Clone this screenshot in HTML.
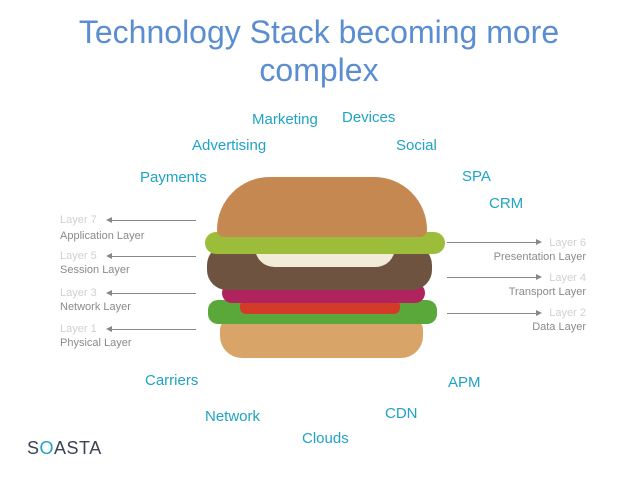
<!DOCTYPE html>
<html><head><meta charset="utf-8"><style>
body{margin:0;width:638px;height:479px;background:#fff;position:relative;overflow:hidden;font-family:"Liberation Sans",sans-serif}
.t{position:absolute;white-space:nowrap}
.title{left:0;width:638px;text-align:center;color:#5b8ed0;font-size:32px;line-height:38px;top:13px}
.k{color:#1fa3c6;font-size:15px}
.ly{color:#d0d0d0;font-size:11px}
.ln{color:#8a8a8a;font-size:11px}
.a{position:absolute;height:1px;background:#888}
.hl{position:absolute;width:0;height:0;border-top:3px solid transparent;border-bottom:3px solid transparent;border-right:6px solid #888}
.hr{position:absolute;width:0;height:0;border-top:3px solid transparent;border-bottom:3px solid transparent;border-left:6px solid #888}
.b{position:absolute}
</style></head><body>
<div class="t title">Technology Stack becoming more<br>complex</div>
<div class="t k" style="left:252px;top:111px">Marketing</div>
<div class="t k" style="left:342px;top:109px">Devices</div>
<div class="t k" style="left:192px;top:137px">Advertising</div>
<div class="t k" style="left:396px;top:137px">Social</div>
<div class="t k" style="left:140px;top:169px">Payments</div>
<div class="t k" style="left:462px;top:168px">SPA</div>
<div class="t k" style="left:489px;top:195px">CRM</div>
<div class="t k" style="left:145px;top:372px">Carriers</div>
<div class="t k" style="left:448px;top:374px">APM</div>
<div class="t k" style="left:205px;top:408px">Network</div>
<div class="t k" style="left:385px;top:405px">CDN</div>
<div class="t k" style="left:302px;top:430px">Clouds</div>

<div class="t ly" style="left:60px;top:214px">Layer 7</div><div class="t ln" style="left:60px;top:230px">Application Layer</div>
<div class="t ly" style="left:60px;top:250px">Layer 5</div><div class="t ln" style="left:60px;top:264px">Session Layer</div>
<div class="t ly" style="left:60px;top:287px">Layer 3</div><div class="t ln" style="left:60px;top:301px">Network Layer</div>
<div class="t ly" style="left:60px;top:323px">Layer 1</div><div class="t ln" style="left:60px;top:337px">Physical Layer</div>
<div class="a" style="left:108px;top:220px;width:88px"></div><div class="hl" style="left:106px;top:217px"></div>
<div class="a" style="left:108px;top:256px;width:88px"></div><div class="hl" style="left:106px;top:253px"></div>
<div class="a" style="left:108px;top:293px;width:88px"></div><div class="hl" style="left:106px;top:290px"></div>
<div class="a" style="left:108px;top:329px;width:88px"></div><div class="hl" style="left:106px;top:326px"></div>
<div class="t ly" style="right:52px;top:237px">Layer 6</div><div class="t ln" style="right:52px;top:251px">Presentation Layer</div>
<div class="t ly" style="right:52px;top:272px">Layer 4</div><div class="t ln" style="right:52px;top:286px">Transport Layer</div>
<div class="t ly" style="right:52px;top:307px">Layer 2</div><div class="t ln" style="right:52px;top:321px">Data Layer</div>
<div class="a" style="left:447px;top:242px;width:90px"></div><div class="hr" style="left:536px;top:239px"></div>
<div class="a" style="left:447px;top:277px;width:90px"></div><div class="hr" style="left:536px;top:274px"></div>
<div class="a" style="left:447px;top:313px;width:90px"></div><div class="hr" style="left:536px;top:310px"></div>

<div class="b" style="left:220px;top:318px;width:203px;height:40px;background:#d9a468;border-radius:12px 12px 22px 22px"></div>
<div class="b" style="left:208px;top:300px;width:229px;height:24px;background:#5aa83a;border-radius:10px"></div>
<div class="b" style="left:240px;top:300px;width:160px;height:14px;background:#d43a2a;border-radius:6px"></div>
<div class="b" style="left:222px;top:283px;width:203px;height:20px;background:#b0245e;border-radius:10px"></div>
<div class="b" style="left:207px;top:245px;width:225px;height:45px;background:#6e5440;border-radius:20px"></div>
<div class="b" style="left:255px;top:245px;width:140px;height:22px;background:#f1ecd8;border-radius:4px 4px 30px 30px"></div>
<div class="b" style="left:205px;top:232px;width:240px;height:22px;background:#9bbd3a;border-radius:14px"></div>
<div class="b" style="left:217px;top:177px;width:210px;height:60px;background:#c48850;border-radius:105px 105px 14px 14px"></div>

<div class="t" style="left:27px;top:438px;font-size:18px;color:#3b4452;letter-spacing:0.5px">S<span style="color:#1fa3c6">O</span>ASTA</div>
</body></html>
